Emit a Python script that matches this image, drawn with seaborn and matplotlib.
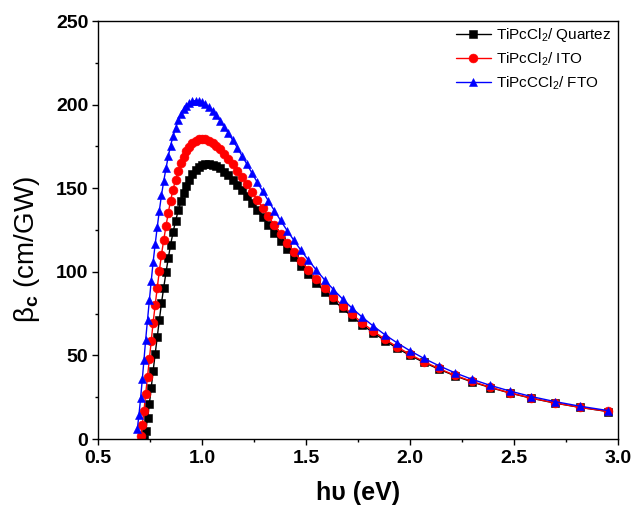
import numpy as np
import pandas as pd
import matplotlib
matplotlib.use("Agg")
import matplotlib.pyplot as plt
from matplotlib.ticker import MultipleLocator
import seaborn as sns

# photon energy (eV)
energy = [2.952, 2.818, 2.696, 2.583, 2.480, 2.385, 2.296, 2.214, 2.138, 2.067,
          2.000, 1.938, 1.879, 1.824, 1.771, 1.722, 1.676, 1.632, 1.590, 1.550,
          1.512, 1.476, 1.442, 1.409, 1.378, 1.348, 1.319, 1.292, 1.265, 1.240,
          1.216, 1.192, 1.170, 1.148, 1.127, 1.107, 1.088, 1.069, 1.051, 1.033,
          1.016, 1.000, 0.984, 0.969, 0.954, 0.939, 0.925, 0.912, 0.899, 0.886,
          0.873, 0.861, 0.849, 0.838, 0.827, 0.816, 0.805, 0.795, 0.785, 0.775,
          0.765, 0.756, 0.747, 0.738, 0.729, 0.721, 0.713, 0.705, 0.697, 0.689]

beta_quartz = [16.4, 18.9, 21.5, 24.4, 27.5, 30.8, 34.2, 37.9, 41.8, 45.8,
               50.0, 54.3, 58.9, 63.5, 68.3, 73.1, 78.1, 83.1, 88.2, 93.4,
               98.5, 103.6, 108.7, 113.7, 118.7, 123.5, 128.2, 132.8, 137.1, 141.3,
               145.2, 148.8, 152.1, 155.1, 157.7, 159.9, 161.8, 163.1, 164.0, 164.4,
               164.3, 163.6, 162.4, 160.6, 158.2, 155.2, 151.5, 147.2, 142.3, 136.7,
               130.5, 123.7, 116.2, 108.2, 99.7, 90.6, 81.1, 71.3, 61.2, 51.0,
               40.7, 30.7, 21.1, 12.3, 4.9, 0.2, None, None, None, None]

beta_ito = [16.5, 18.9, 21.6, 24.5, 27.6, 31.0, 34.5, 38.2, 42.2, 46.3,
            50.6, 55.1, 59.7, 64.5, 69.4, 74.5, 79.7, 84.9, 90.3, 95.7,
            101.1, 106.5, 112.0, 117.4, 122.7, 128.0, 133.2, 138.2, 143.1, 147.8,
            152.3, 156.6, 160.5, 164.2, 167.6, 170.5, 173.2, 175.3, 177.1, 178.4,
            179.2, 179.4, 179.2, 178.3, 176.9, 174.9, 172.2, 168.9, 164.9, 160.3,
            155.1, 149.2, 142.6, 135.4, 127.5, 119.1, 110.1, 100.6, 90.6, 80.2,
            69.6, 58.7, 47.8, 37.1, 26.7, 17.0, 8.4, 1.9, None, None]

beta_fto = [17.0, 19.6, 22.4, 25.4, 28.7, 32.1, 35.8, 39.7, 43.9, 48.2,
            52.8, 57.5, 62.4, 67.5, 72.8, 78.2, 83.7, 89.4, 95.1, 101.0,
            106.9, 112.8, 118.8, 124.7, 130.7, 136.6, 142.4, 148.1, 153.7, 159.1,
            164.4, 169.4, 174.2, 178.7, 182.9, 186.8, 190.3, 193.5, 196.2, 198.4,
            200.2, 201.5, 202.2, 202.4, 202.0, 201.0, 199.4, 197.1, 194.2, 190.5,
            186.2, 181.2, 175.5, 169.1, 162.0, 154.2, 145.7, 136.6, 126.9, 116.6,
            105.8, 94.6, 83.0, 71.2, 59.2, 47.3, 35.7, 24.7, 14.5, 6.0]

labels = ["TiPcCl$_2$/ Quartez", "TiPcCl$_2$/ ITO", "TiPcCCl$_2$/ FTO"]
colors = ["black", "red", "blue"]
markers = ["s", "o", "^"]

sns.set_theme(style="ticks")
plt.rcParams['font.family'] = ['Liberation Sans', 'DejaVu Sans']
plt.rcParams['mathtext.fontset'] = 'custom'
plt.rcParams['mathtext.rm'] = 'Liberation Sans'
plt.rcParams['mathtext.it'] = 'Liberation Sans:italic'
plt.rcParams['mathtext.bf'] = 'Liberation Sans:bold'
plt.rcParams['text.color'] = 'black'
plt.rcParams['axes.labelcolor'] = 'black'
plt.rcParams['xtick.color'] = 'black'
plt.rcParams['ytick.color'] = 'black'

fig = plt.figure(figsize=(6.44, 5.07), dpi=100)
ax = fig.add_axes([98/644, 1 - 439/507, 520/644, 418/507])

for ys, lab, c, m in zip([beta_quartz, beta_ito, beta_fto], labels, colors, markers):
    df = pd.DataFrame({"E": energy, "beta": pd.array(ys, dtype="Float64").astype(float)}).dropna()
    sns.lineplot(data=df, x="E", y="beta", ax=ax, color=c, marker=m, markersize=6.4,
                 markeredgecolor=c, markeredgewidth=0.4, linewidth=1.0, label=lab,
                 sort=False, estimator=None)

ax.set_xlim(0.5, 3.0)
ax.set_ylim(0, 250)
ax.xaxis.set_major_locator(MultipleLocator(0.5))
ax.xaxis.set_minor_locator(MultipleLocator(0.25))
ax.yaxis.set_major_locator(MultipleLocator(50))
ax.yaxis.set_minor_locator(MultipleLocator(25))
ax.set_xticklabels([f"{v:.1f}" for v in ax.get_xticks()])
ax.tick_params(which="major", direction="out", length=4, width=1, labelsize=14,
               top=False, right=False)
ax.tick_params(axis="x", which="major", pad=4)
ax.tick_params(axis="y", which="major", pad=3)
ax.tick_params(which="minor", direction="out", length=2.5, width=1,
               top=False, right=False)
for lbl in ax.get_xticklabels() + ax.get_yticklabels():
    lbl.set_fontweight("bold")
for s in ax.spines.values():
    s.set_visible(True)
    s.set_color("black")
    s.set_linewidth(1.0)

ax.set_xlabel("hυ (eV)", fontsize=18, fontweight="bold", labelpad=10)
ax.set_ylabel(r"β$_\mathbf{c}$ (cm/GW)", fontsize=20)
ax.yaxis.set_label_coords(-0.108, 0.452)

leg = ax.legend(loc="upper left", bbox_to_anchor=(0.688, 0.988), fontsize=11,
                frameon=False, borderaxespad=0, borderpad=0, handlelength=2.3,
                labelspacing=0.42, handletextpad=0.35)

fig.savefig("out.png", dpi=100)
